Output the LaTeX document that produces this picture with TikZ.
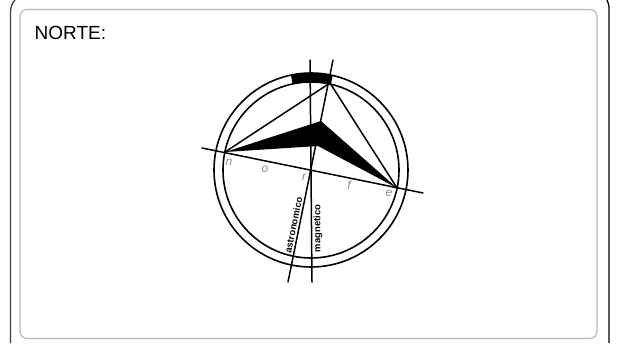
\documentclass[tikz,border=0pt]{standalone}
\usepackage{fontspec}
\setmainfont{Liberation Sans}
\definecolor{boxgray}{HTML}{B8B8B8}
\definecolor{lettergray}{HTML}{8C8C8C}
\begin{document}
\begin{tikzpicture}[x=1pt,y=-1pt,
    ring/.style={draw=black,line width=1.6pt},
    ray/.style={draw=black,line width=1.5pt,line cap=round},
    letter/.style={text=lettergray,font=\fontsize{12}{14}\selectfont\itshape,inner sep=0pt},
    dirlabel/.style={font=\fontsize{9.4}{11}\selectfont\bfseries,inner sep=0pt}]
  \useasboundingbox (0,0) rectangle (632,343);
  % frame
  \draw[line width=1.3pt,draw=black!75] (15,0) .. controls (12,3) and (10.5,7) .. (10.5,13) -- (10.5,343);
  \draw[line width=1.3pt] (607,0) .. controls (608.5,3) and (609,5) .. (609,10) -- (609,343);
  \draw[boxgray,line width=1.2pt,rounded corners=7pt] (20,9.5) rectangle (597,338.5);
  \node[anchor=base west,inner sep=0pt,font=\fontsize{19}{22}\selectfont] (title) at (34.5,39) {NORTE:};
  % points
  \coordinate (centre) at (311,170);
  \coordinate (n) at (225,152);
  \coordinate (e) at (397,188);
  \coordinate (top) at (330,83);
  \coordinate (peak) at (321,121);
  \coordinate (notch) at (318,146);
  \coordinate (westend) at (202,148);
  \coordinate (eastend) at (423,193);
  \coordinate (astrotop) at (333,60);
  \coordinate (astrobot) at (288,282);
  \coordinate (magtop) at (310,60);
  \coordinate (magbot) at (312,282);
  % rings
  \draw[ring] (centre) circle[radius=97];
  \draw[ring] (centre) circle[radius=88];
  \draw[black,line width=9.5pt] (centre) ++(-102:92.5) arc[start angle=-102,end angle=-77,radius=92.5];
  % star
  \fill[black] (n) -- (peak) -- (e) -- (notch) -- cycle;
  \draw[ray] (westend) -- (eastend);
  \draw[ray] (astrotop) -- (astrobot);
  \draw[ray] (magtop) -- (magbot);
  \draw[ray] (n) -- (top);
  \draw[ray] (top) -- (e);
  % letters
  \node[letter] (ln) at (229,162) {n};
  \node[letter] (lo) at (265,169) {o};
  \node[letter] (lr) at (304,177) {r};
  \node[letter] (lf) at (349,185) {f};
  \node[letter] (le) at (389,193) {e};
  \node[dirlabel,rotate=78.3] (astro) at (293.5,225) {astronomico};
  \node[dirlabel,rotate=90] (magn) at (318,228.5) {magnetico};
\end{tikzpicture}
\end{document}
